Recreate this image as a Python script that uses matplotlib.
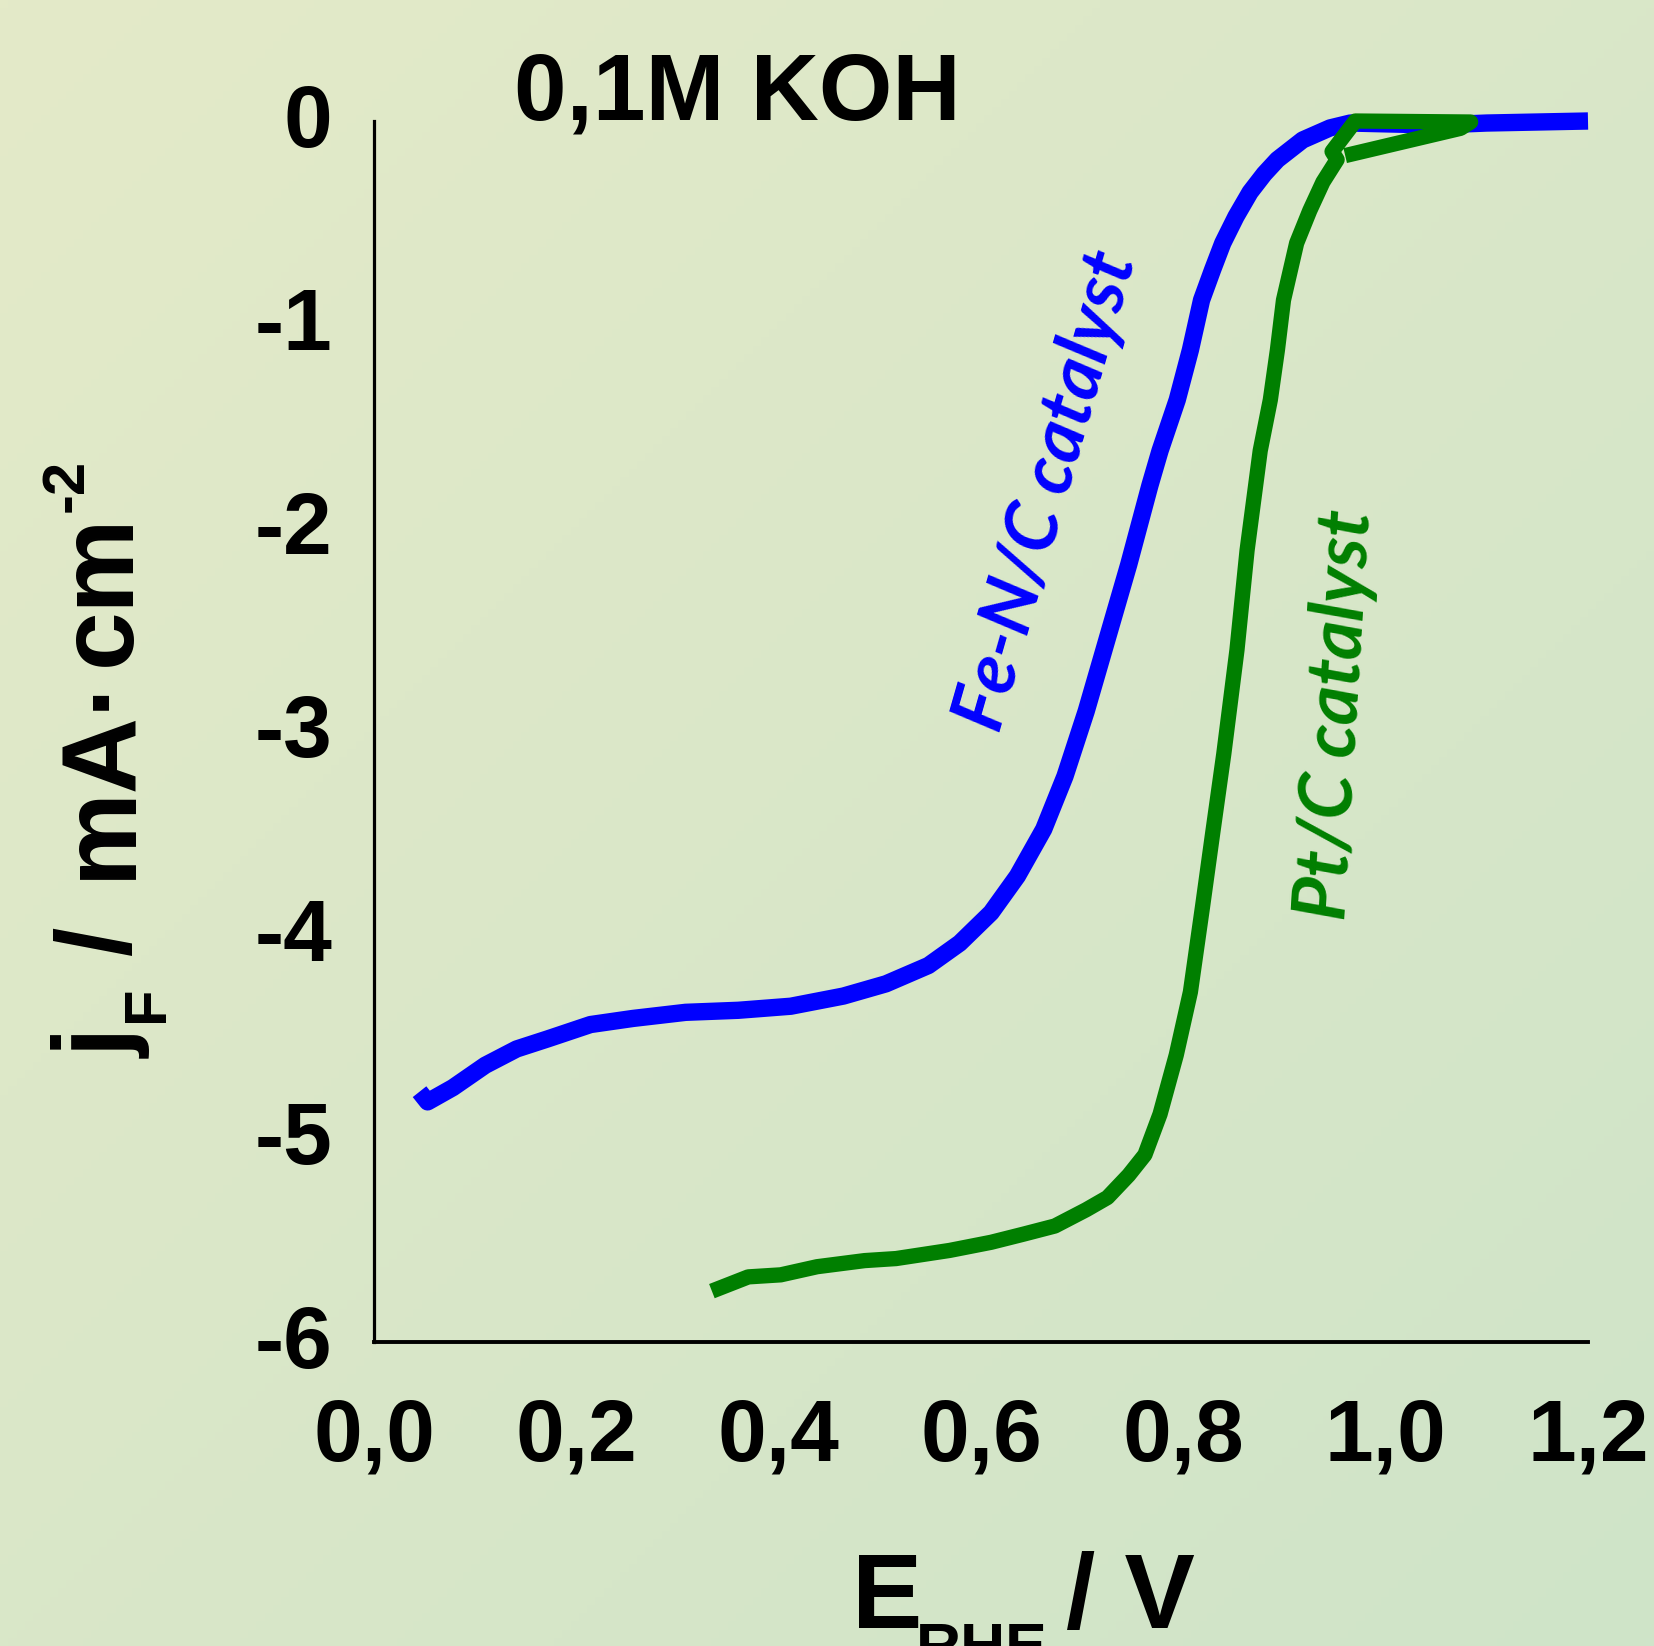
import numpy as np
import matplotlib
matplotlib.use('Agg')
import matplotlib.pyplot as plt
import matplotlib.transforms as mtransforms
from matplotlib import font_manager

plt.rcParams['font.family'] = ['Liberation Sans', 'DejaVu Sans']

try:
    font_manager.findfont('Liberation Sans Narrow', fallback_to_default=False)
    narrow = 'Liberation Sans Narrow'
except ValueError:
    narrow = 'Liberation Sans'

# Fe-N/C catalyst curve (E vs RHE / V, j / mA cm-2)
fen_E = [0.045, 0.053, 0.078, 0.110, 0.141, 0.172, 0.214, 0.256, 0.308, 0.360,
         0.412, 0.464, 0.506, 0.548, 0.579, 0.610, 0.636, 0.662, 0.683, 0.704,
         0.725, 0.746, 0.767, 0.777, 0.794, 0.807, 0.818, 0.829, 0.839, 0.852,
         0.866, 0.880, 0.893, 0.918, 0.945, 0.965, 1.050, 1.100, 1.200]
fen_j = [-4.77, -4.82, -4.75, -4.64, -4.56, -4.51, -4.44, -4.41, -4.38, -4.37,
         -4.35, -4.30, -4.24, -4.15, -4.04, -3.89, -3.71, -3.48, -3.22, -2.90,
         -2.54, -2.18, -1.79, -1.62, -1.37, -1.125, -0.88, -0.73, -0.60, -0.47,
         -0.35, -0.26, -0.19, -0.093, -0.034, -0.01, -0.02, -0.01, 0.0]

# Pt/C catalyst curve
pt_E = [0.334, 0.370, 0.402, 0.438, 0.485, 0.516, 0.569, 0.610, 0.642, 0.673,
        0.704, 0.725, 0.746, 0.762, 0.777, 0.793, 0.807, 0.819, 0.829, 0.840,
        0.853, 0.863, 0.876, 0.886, 0.893, 0.899, 0.912, 0.925, 0.938, 0.952,
        0.947, 0.970, 1.084, 1.074, 0.960]
pt_j = [-5.75, -5.68, -5.67, -5.63, -5.60, -5.59, -5.55, -5.51, -5.47, -5.43,
        -5.35, -5.29, -5.18, -5.08, -4.88, -4.59, -4.28, -3.86, -3.50, -3.11,
        -2.60, -2.11, -1.62, -1.37, -1.125, -0.88, -0.60, -0.44, -0.30, -0.19,
        -0.15, 0.0, -0.005, -0.036, -0.17]

xticks = [0.0, 0.2, 0.4, 0.6, 0.8, 1.0, 1.2]
xtick_labels = ['0,0', '0,2', '0,4', '0,6', '0,8', '1,0', '1,2']
yticks = [0, -1, -2, -3, -4, -5, -6]
ytick_labels = ['0', '-1', '-2', '-3', '-4', '-5', '-6']

W, H = 1654, 1646
fig = plt.figure(figsize=(W/100, H/100), dpi=100)

def px(X, Y):
    return X / W, 1 - Y / H

# light green diagonal gradient background
bg = fig.add_axes([0, 0, 1, 1], zorder=-1)
yy, xx = np.mgrid[0:1:200j, 0:1:200j]
t = (xx + yy) / 2
c0 = np.array([228, 234, 200]) / 255
c1 = np.array([207, 228, 201]) / 255
grad = c0[None, None, :] * (1 - t[..., None]) + c1[None, None, :] * t[..., None]
bg.imshow(grad, aspect='auto', extent=[0, 1, 0, 1], origin='upper')
bg.axis('off')

ax = fig.add_axes([374/W, 1 - 1342/H, (1588-374)/W, (1342-121)/H])
ax.set_facecolor('none')

ax.plot(fen_E, fen_j, color='#0000ff', lw=12.5, solid_joinstyle='round',
        solid_capstyle='butt', clip_on=False, zorder=2)
ax.plot(pt_E, pt_j, color='#007f00', lw=11, solid_joinstyle='round',
        solid_capstyle='butt', clip_on=False, zorder=3)

ax.set_xlim(0, 1.2)
ax.set_ylim(-6, 0)
ax.spines['top'].set_visible(False)
ax.spines['right'].set_visible(False)
ax.spines['left'].set_linewidth(2.3)
ax.spines['bottom'].set_linewidth(2.8)
ax.set_xticks(xticks)
ax.set_xticklabels(xtick_labels, fontsize=63, fontweight='bold')
ax.set_yticks(yticks)
ax.set_yticklabels(ytick_labels, fontsize=63, fontweight='bold')
ax.tick_params(axis='x', length=0, pad=40)
ax.tick_params(axis='y', length=0, pad=30)
shift = mtransforms.ScaledTranslation(0, 4/72, fig.dpi_scale_trans)
for lab in ax.get_yticklabels():
    lab.set_transform(lab.get_transform() + shift)

ax.text(0.633, 0.702, 'Fe-N/C catalyst', transform=fig.transFigure,
        color='#0000ff', fontsize=53, fontweight='bold', style='italic',
        family=['Lato', 'DejaVu Sans'], rotation=74, ha='center', va='center',
        rotation_mode='anchor')
ax.text(0.808, 0.566, 'Pt/C catalyst', transform=fig.transFigure,
        color='#007f00', fontsize=53, fontweight='bold', style='italic',
        family=['Lato', 'DejaVu Sans'], rotation=86.5, ha='center', va='center',
        rotation_mode='anchor')

fig.text(0.446, 0.9277, '0,1M KOH', fontsize=68, fontweight='bold',
         ha='center', va='baseline')

# x axis label: E_RHE / V
xl = dict(fontweight='bold', family=[narrow, 'DejaVu Sans'], ha='left', va='baseline')
fig.text(*px(852, 1628), 'E', fontsize=76, **xl)
fig.text(*px(916, 1667), 'RHE', fontsize=45, **xl)
fig.text(*px(1066, 1628), '/ V', fontsize=76, **xl)

# y axis label: j_F / mA·cm^-2
yl = dict(fontweight='bold', rotation=90, rotation_mode='anchor',
          ha='left', va='baseline')
fig.text(*px(130, 1058), 'j', fontsize=76, **yl)
fig.text(*px(163, 1022), 'F', fontsize=43, **yl)
fig.text(*px(130, 955), '/', fontsize=76, **yl)
fig.text(*px(130, 879), 'mA·', fontsize=76, **yl)
fig.text(*px(130, 666), 'cm', fontsize=76, **yl)
fig.text(*px(83, 512), '-2', fontsize=43, **yl)

fig.savefig('out.png', dpi=100)
